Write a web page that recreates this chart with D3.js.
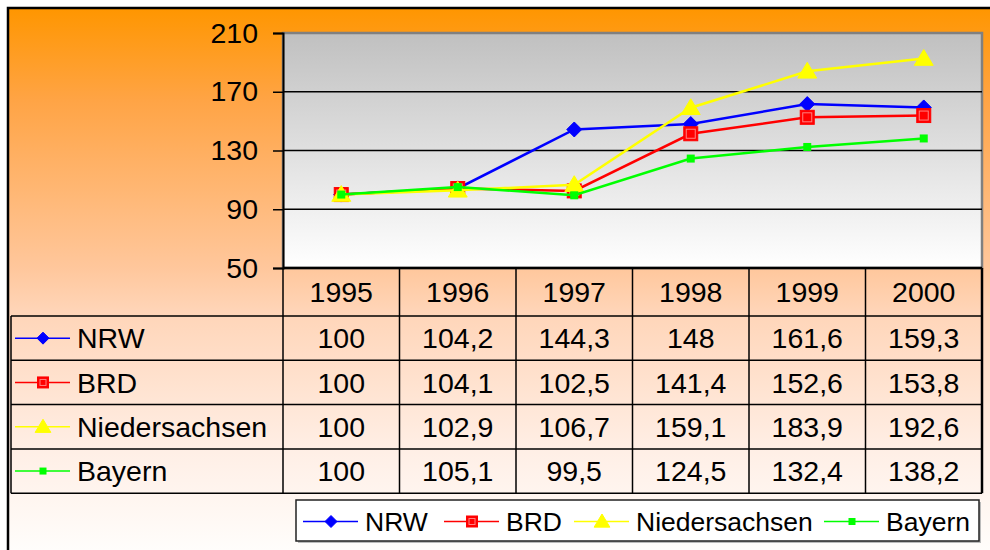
<!DOCTYPE html>
<html>
<head>
<meta charset="utf-8">
<script src="https://cdn.jsdelivr.net/npm/d3@7"></script>
<style>
  body { margin: 0; background: #fff; }
  svg { display: block; font-family: "Liberation Sans", Arial, sans-serif; }
</style>
</head>
<body>
<div id="viz"></div>
<script>
// data
var years = ["1995", "1996", "1997", "1998", "1999", "2000"];
var seriesNames = ["NRW", "BRD", "Niedersachsen", "Bayern"];
var nrw = [100, 104.2, 144.3, 148, 161.6, 159.3];
var brd = [100, 104.1, 102.5, 141.4, 152.6, 153.8];
var niedersachsen = [100, 102.9, 106.7, 159.1, 183.9, 192.6];
var bayern = [100, 105.1, 99.5, 124.5, 132.4, 138.2];
var yTicks = [50, 90, 130, 170, 210];

var seriesValues = [nrw, brd, niedersachsen, bayern];
var colors = ["#0000ff", "#ff0000", "#ffff00", "#00ff00"];
var shapes = ["diamond", "square", "triangle", "small"];

var width = 990, height = 550;
var plotLeft = 283, plotRight = 982, plotTop = 33, plotBottom = 268;
var rowH = 44.3, headH = 48;
var fontSize = 28.5;

var svg = d3.select("#viz")
    .append("svg")
    .attr("width", width)
    .attr("height", height);

var defs = svg.append("defs");
var bg = defs.append("linearGradient").attr("id", "bg")
    .attr("gradientUnits", "userSpaceOnUse")
    .attr("x1", 0).attr("y1", 8).attr("x2", 0).attr("y2", 550);
[[0, "#ff9600"], [0.17, "#ffa445"], [0.48, "#ffc79c"], [0.56, "#ffd5b8"], [0.82, "#ffefe6"], [1, "#fffdfb"]]
    .forEach(function(s){ bg.append("stop").attr("offset", s[0]).attr("stop-color", s[1]); });

var pg = defs.append("linearGradient").attr("id", "plotbg")
    .attr("x1", 0).attr("y1", 0).attr("x2", 0).attr("y2", 1);
pg.append("stop").attr("offset", "0").attr("stop-color", "#c0c0c0");
pg.append("stop").attr("offset", "1").attr("stop-color", "#ffffff");

// outer frame
svg.append("rect")
    .attr("x", 8).attr("y", 8)
    .attr("width", 1000).attr("height", 600)
    .style("fill", "url(#bg)")
    .style("stroke", "#000")
    .style("stroke-width", 2.5);

var x = d3.scaleBand().domain(years).range([plotLeft, plotRight]).padding(0);
var y = d3.scaleLinear().domain([50, 210]).range([plotBottom, plotTop]);

// plot area
svg.append("rect")
    .attr("x", plotLeft).attr("y", plotTop)
    .attr("width", plotRight - plotLeft).attr("height", plotBottom - plotTop)
    .style("fill", "url(#plotbg)")
    .style("stroke", "#808080")
    .style("stroke-width", 2.5);

svg.append("g").selectAll("line")
    .data(yTicks.filter(function(d){ return d > 50 && d < 210; }))
    .enter().append("line")
    .attr("x1", plotLeft).attr("x2", plotRight)
    .attr("y1", function(d){ return y(d); })
    .attr("y2", function(d){ return y(d); })
    .style("stroke", "#000")
    .style("stroke-width", 1.5);

var yAxis = svg.append("g")
    .attr("transform", "translate(" + plotLeft + ",0)")
    .call(d3.axisLeft(y).tickValues(yTicks).tickSize(10).tickPadding(15));
yAxis.selectAll("text")
    .style("font-size", fontSize + "px")
    .style("font-family", "Liberation Sans, Arial, sans-serif")
    .style("fill", "#000");
yAxis.selectAll("line, path").style("stroke", "#000").style("stroke-width", 1.5);
yAxis.select(".domain").style("stroke-width", 2);

// bottom axis line
svg.append("line")
    .attr("x1", plotLeft).attr("x2", plotRight)
    .attr("y1", plotBottom).attr("y2", plotBottom)
    .style("stroke", "#000").style("stroke-width", 2.5);

function marker(g, shape, color, s) {
    if (shape === "diamond") {
        g.append("path")
            .attr("d", "M0," + (-s) + "L" + s + ",0L0," + s + "L" + (-s) + ",0Z")
            .style("fill", color).style("stroke", color);
    } else if (shape === "square") {
        g.append("rect")
            .attr("x", -s).attr("y", -s).attr("width", 2 * s).attr("height", 2 * s)
            .style("fill", color).style("stroke", color);
        g.append("rect")
            .attr("x", -s + 2.5).attr("y", -s + 2.5).attr("width", 2 * s - 5).attr("height", 2 * s - 5)
            .style("fill", "none").style("stroke", "#ff8080").style("stroke-width", 1);
    } else if (shape === "triangle") {
        g.append("path")
            .attr("d", "M0," + (-s) + "L" + (s * 1.05) + "," + (s * 0.75) + "L" + (-s * 1.05) + "," + (s * 0.75) + "Z")
            .style("fill", color).style("stroke", color);
    } else {
        g.append("rect")
            .attr("x", -s).attr("y", -s).attr("width", 2 * s).attr("height", 2 * s)
            .style("fill", color);
    }
}
var plotSize = { diamond: 7.5, square: 7, triangle: 9, small: 4 };
var keySize = { diamond: 6, square: 5.5, triangle: 7.5, small: 3.5 };

// lines
var line = d3.line()
    .x(function(d, i){ return x(years[i]) + x.bandwidth() / 2; })
    .y(function(d){ return y(d); });

seriesValues.forEach(function(vals, k) {
    svg.append("path")
        .datum(vals)
        .attr("d", line)
        .style("fill", "none")
        .style("stroke", colors[k])
        .style("stroke-width", 2.5);
    svg.append("g").selectAll("g")
        .data(vals)
        .enter().append("g")
        .attr("transform", function(d, i){
            return "translate(" + (x(years[i]) + x.bandwidth() / 2) + "," + y(d) + ")";
        })
        .each(function(){ marker(d3.select(this), shapes[k], colors[k], plotSize[shapes[k]]); });
});

// data table
var table = svg.append("g");
var tableLeft = 11;
var tableBottom = plotBottom + headH + rowH * seriesNames.length;

// header row years
table.selectAll("text.year")
    .data(years)
    .enter().append("text")
    .attr("class", "year")
    .attr("x", function(d){ return x(d) + x.bandwidth() / 2; })
    .attr("y", plotBottom + headH / 2)
    .attr("dy", "0.36em")
    .attr("text-anchor", "middle")
    .style("font-size", fontSize + "px")
    .text(function(d){ return d; });

var rows = table.selectAll("g.row")
    .data(seriesNames)
    .enter().append("g")
    .attr("class", "row")
    .attr("transform", function(d, i){ return "translate(0," + (plotBottom + headH + rowH * i) + ")"; });

rows.selectAll("text.val")
    .data(function(d, i){ return seriesValues[i]; })
    .enter().append("text")
    .attr("class", "val")
    .attr("x", function(d, i){ return x(years[i]) + x.bandwidth() / 2; })
    .attr("y", rowH / 2)
    .attr("dy", "0.36em")
    .attr("text-anchor", "middle")
    .style("font-size", fontSize + "px")
    .text(function(d){ return String(d).replace(".", ","); });

rows.append("line")
    .attr("x1", 15).attr("x2", 70)
    .attr("y1", rowH / 2).attr("y2", rowH / 2)
    .style("stroke", function(d, i){ return colors[i]; })
    .style("stroke-width", 1.5);
rows.append("g")
    .attr("transform", "translate(43," + (rowH / 2) + ")")
    .each(function(d, i){ marker(d3.select(this), shapes[i], colors[i], keySize[shapes[i]]); });
rows.append("text")
    .attr("x", 77)
    .attr("y", rowH / 2)
    .attr("dy", "0.36em")
    .style("font-size", fontSize + "px")
    .text(function(d){ return d; });

// table grid
var hLines = [plotBottom + headH];
seriesNames.forEach(function(d, i){ hLines.push(plotBottom + headH + rowH * (i + 1)); });
table.selectAll("line.h")
    .data(hLines)
    .enter().append("line")
    .attr("x1", tableLeft).attr("x2", plotRight)
    .attr("y1", function(d){ return d; }).attr("y2", function(d){ return d; })
    .style("stroke", "#000").style("stroke-width", 1.5);
var vLines = years.map(function(d){ return x(d); });
table.selectAll("line.v")
    .data(vLines)
    .enter().append("line")
    .attr("x1", function(d){ return d; }).attr("x2", function(d){ return d; })
    .attr("y1", plotBottom).attr("y2", tableBottom)
    .style("stroke", "#000").style("stroke-width", 1.5);
table.append("line")
    .attr("x1", tableLeft).attr("x2", tableLeft)
    .attr("y1", plotBottom + headH).attr("y2", tableBottom)
    .style("stroke", "#000").style("stroke-width", 1.5);
table.append("line")
    .attr("x1", plotRight).attr("x2", plotRight)
    .attr("y1", plotBottom).attr("y2", tableBottom)
    .style("stroke", "#000").style("stroke-width", 2.5);

// legend
var legFont = 26.5;
var legend = svg.append("g");
var legX = 296, legY = 500, legH = 41, legW = 683;
legend.append("rect")
    .attr("x", legX + 2).attr("y", legY + 2)
    .attr("width", legW).attr("height", legH)
    .style("fill", "#bbb");
legend.append("rect")
    .attr("x", legX).attr("y", legY)
    .attr("width", legW).attr("height", legH)
    .style("fill", "#fff")
    .style("stroke", "#222").style("stroke-width", 1.5);

var legItemX = [303, 444, 574, 824];
var items = legend.selectAll("g.item")
    .data(seriesNames)
    .enter().append("g")
    .attr("class", "item")
    .attr("transform", function(d, i){ return "translate(" + legItemX[i] + "," + (legY + legH / 2 + 1) + ")"; });
items.append("line")
    .attr("x1", 0).attr("x2", 55)
    .attr("y1", 0).attr("y2", 0)
    .style("stroke", function(d, i){ return colors[i]; })
    .style("stroke-width", 1.5);
items.append("g")
    .attr("transform", "translate(28,0)")
    .each(function(d, i){ marker(d3.select(this), shapes[i], colors[i], keySize[shapes[i]]); });
items.append("text")
    .attr("x", 62)
    .attr("dy", "0.36em")
    .style("font-size", legFont + "px")
    .text(function(d){ return d; });
</script>
</body>
</html>
